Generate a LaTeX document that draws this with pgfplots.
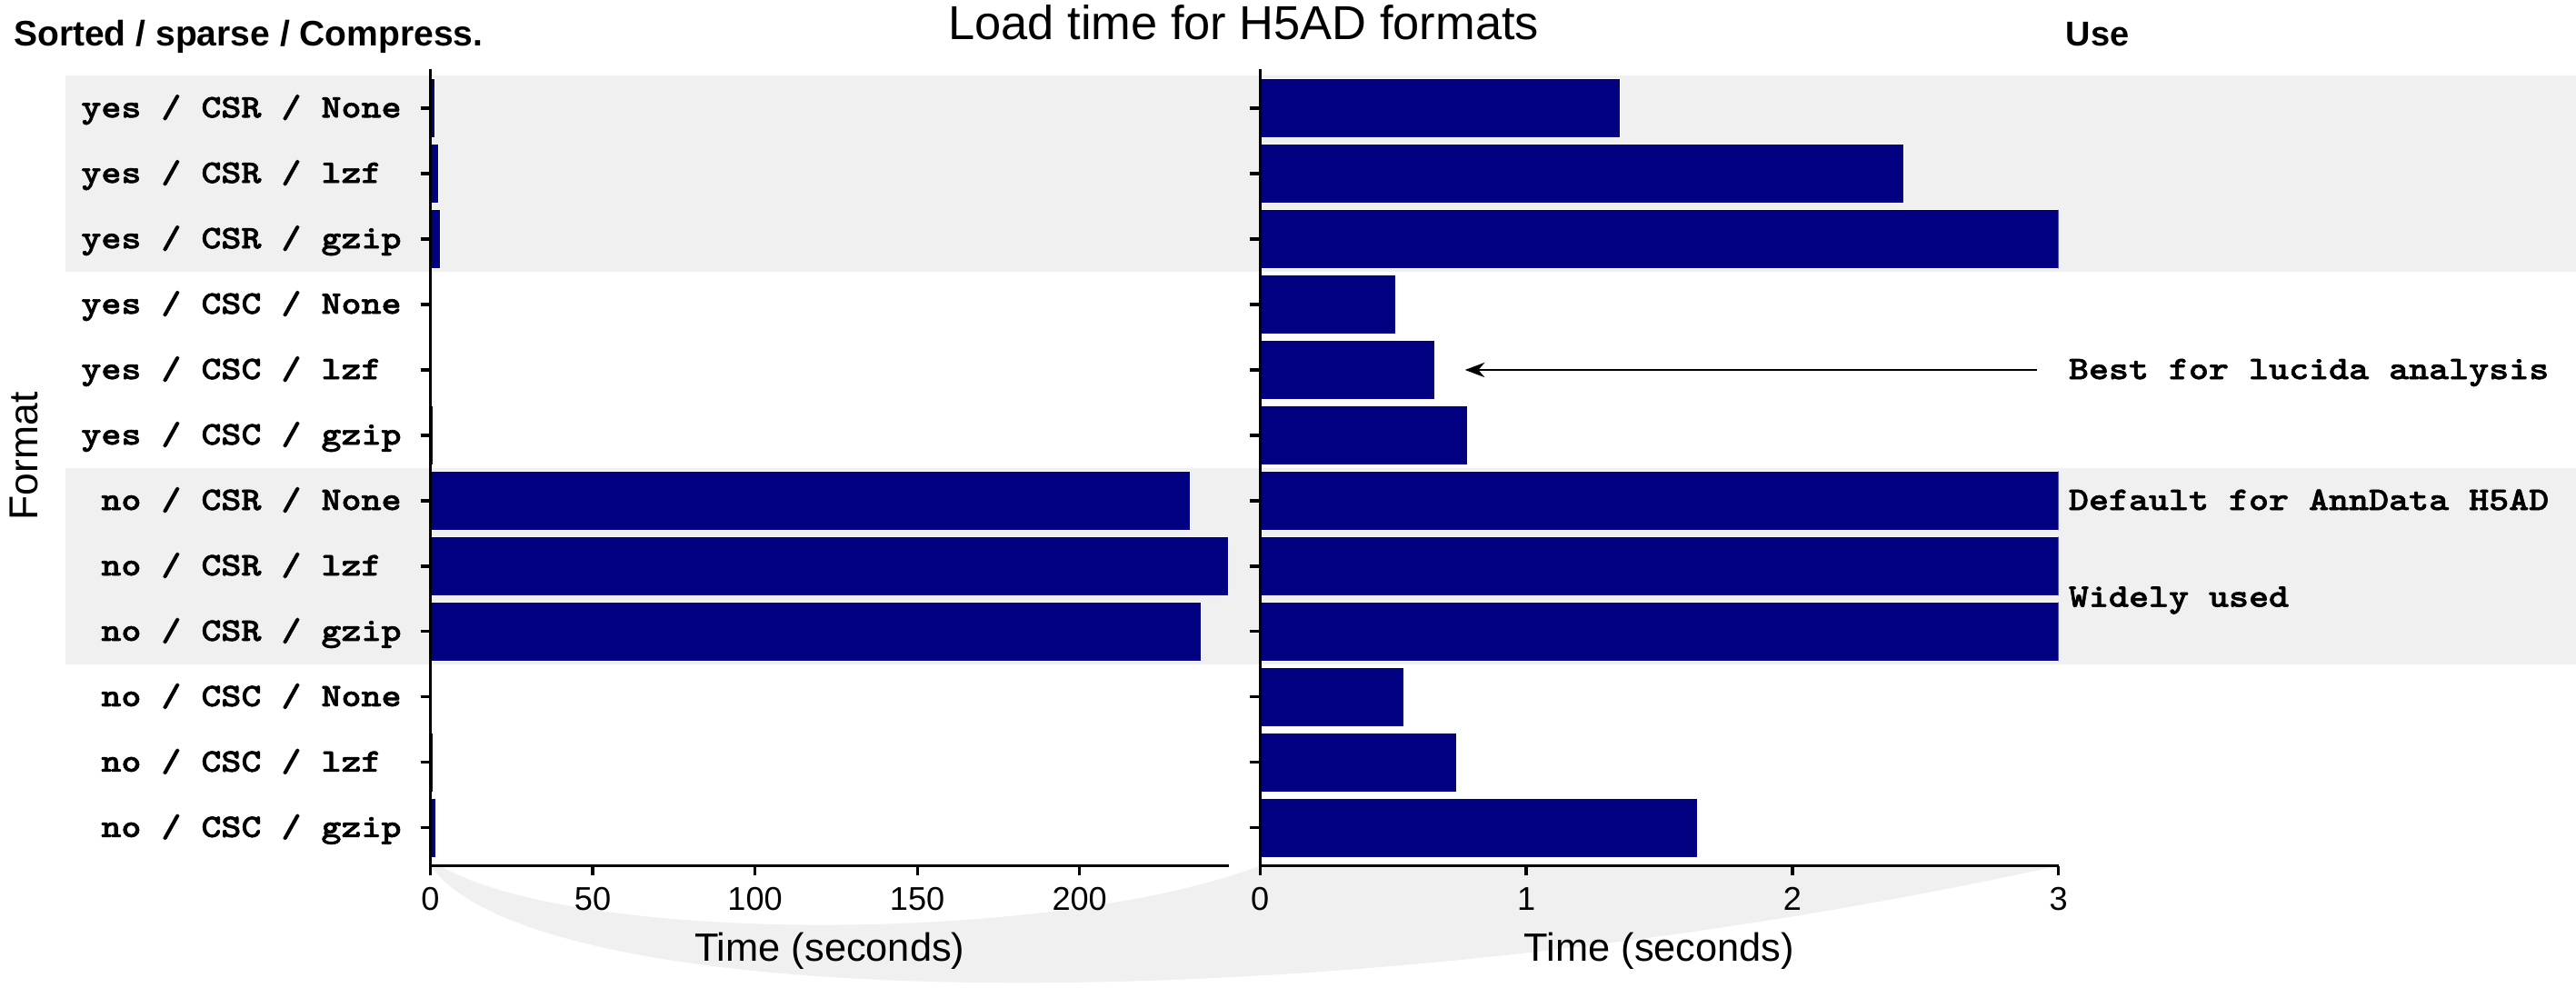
\documentclass[border=0pt]{standalone}
\usepackage{fontspec}
\setmainfont{Liberation Sans}
\newfontfamily\courfont{lmmonolt10-bold.otf}[FakeStretch=1.16, FakeBold=1.6]
\usepackage{pgfplots}
\usepackage{pgfplotstable}
\pgfplotsset{compat=1.18}
\usetikzlibrary{backgrounds,arrows.meta}

\definecolor{barblue}{RGB}{0,0,128}
\definecolor{band}{RGB}{240,240,240}

% row 0 (top) is plotted at pos 11
\pgfplotstableread{
pos val
11 1.354
10 2.42
9  3.1
8  0.51
7  0.655
6  0.78
5  234
4  246
3  237.6
2  0.54
1  0.74
0  1.645
}\loadtimes

\newcommand{\cour}{\courfont\fontsize{10}{12}\selectfont}

\pgfplotsset{
  h5ad/.style={
    scale only axis, width=243pt, height=242.5pt,
    xbar, bar width=18.1pt,
    ymin=-0.58, ymax=11.6, xmin=0,
    axis x line*=bottom, axis y line*=left,
    axis line style={line width=0.9pt,-},
    axis on top,
    tick align=outside, major tick length=3pt,
    tick style={line width=0.9pt, black},
    ytick={0,...,11},
    /pgf/number format/assume math mode=true,
    tick label style={font=\fontsize{10}{12}\selectfont},
    xlabel={Time (seconds)},
    xlabel style={font=\fontsize{12}{14}\selectfont},
    clip mode=individual,
  },
  bars/.style={xbar, fill=barblue, draw=white, line width=0.3pt},
}

\begin{document}
\begin{tikzpicture}
\coordinate (X0) at (20pt,0);
\coordinate (X1) at (784pt,0);

\node[anchor=base, inner sep=0, font=\fontsize{14.5}{17}\selectfont] at (378.5pt,-12pt) {Load time for H5AD formats};
\node[anchor=base west, inner sep=0, font=\bfseries\fontsize{10.8}{12}\selectfont] at (4pt,-14pt) {Sorted / sparse / Compress.};
\node[anchor=base west, inner sep=0, font=\bfseries\fontsize{10.5}{12}\selectfont] at (628.5pt,-14pt) {Use};

% full range
\begin{axis}[h5ad, at={(131pt,-263.5pt)}, anchor=south west,
  xmax=246, xtick={0,50,100,150,200},
  yticklabels={no / CSC / gzip, no / CSC / lzf\phantom{x}, no / CSC / None,
    no / CSR / gzip, no / CSR / lzf\phantom{x}, no / CSR / None,
    yes / CSC / gzip, yes / CSC / lzf\phantom{x}, yes / CSC / None,
    yes / CSR / gzip, yes / CSR / lzf\phantom{x}, yes / CSR / None},
  yticklabel style={font=\cour, text height=6.6pt, text depth=1pt, xshift=-2.3pt},
  ylabel={Format},
  ylabel style={at={(rel axis cs:-0.509,0.514)}, anchor=center, font=\fontsize{12.3}{14}\selectfont},
]
\addplot[bars] table[x=val, y=pos] {\loadtimes};
\coordinate (L0) at (axis cs:0,-0.58);
\coordinate (L3) at (axis cs:3,-0.58);
\coordinate (bA) at (axis cs:0,11.5);
\coordinate (bB) at (axis cs:0,8.5);
\coordinate (bC) at (axis cs:0,5.5);
\coordinate (bD) at (axis cs:0,2.5);
\end{axis}

% zoom on 0-3 s, long bars run off the edge
\begin{axis}[h5ad, at={(383.5pt,-263.5pt)}, anchor=south west,
  xmax=3, xtick={0,1,2,3}, yticklabels={},
]
\addplot[bars, x filter/.expression={min(x,3.3)}] table[x=val, y=pos] {\loadtimes};
\coordinate (R0) at (axis cs:0,-0.58);
\coordinate (R3) at (axis cs:3,-0.58);
\draw[-{Stealth[length=6pt,width=4.5pt]}, line width=0.6pt] (axis cs:2.92,7) -- (axis cs:0.77,7);
\node[anchor=base west, inner sep=0, yshift=-2.8pt, font=\cour] at (axis cs:3.036,7) {Best for lucida analysis};
\node[anchor=base west, inner sep=0, yshift=-2.8pt, font=\cour] at (axis cs:3.036,5) {Default for AnnData H5AD};
\node[anchor=base west, inner sep=0, yshift=-2.8pt, font=\cour] at (axis cs:3.036,3.52) {Widely used};
\end{axis}

\begin{pgfonlayer}{background}
\fill[band] (X0 |- bA) rectangle (X1 |- bB);
\fill[band] (X0 |- bC) rectangle (X1 |- bD);
\fill[band] (L0) .. controls +(34pt,-47.5pt) and +(-216pt,-47.5pt) .. (R3)
  -- (R0) .. controls +(-63.5pt,-24pt) and +(41pt,-24pt) .. (L3) -- cycle;
\end{pgfonlayer}

\pgfresetboundingbox
\path[use as bounding box] (0,0) rectangle (784pt,-300.5pt);
\end{tikzpicture}
\end{document}
